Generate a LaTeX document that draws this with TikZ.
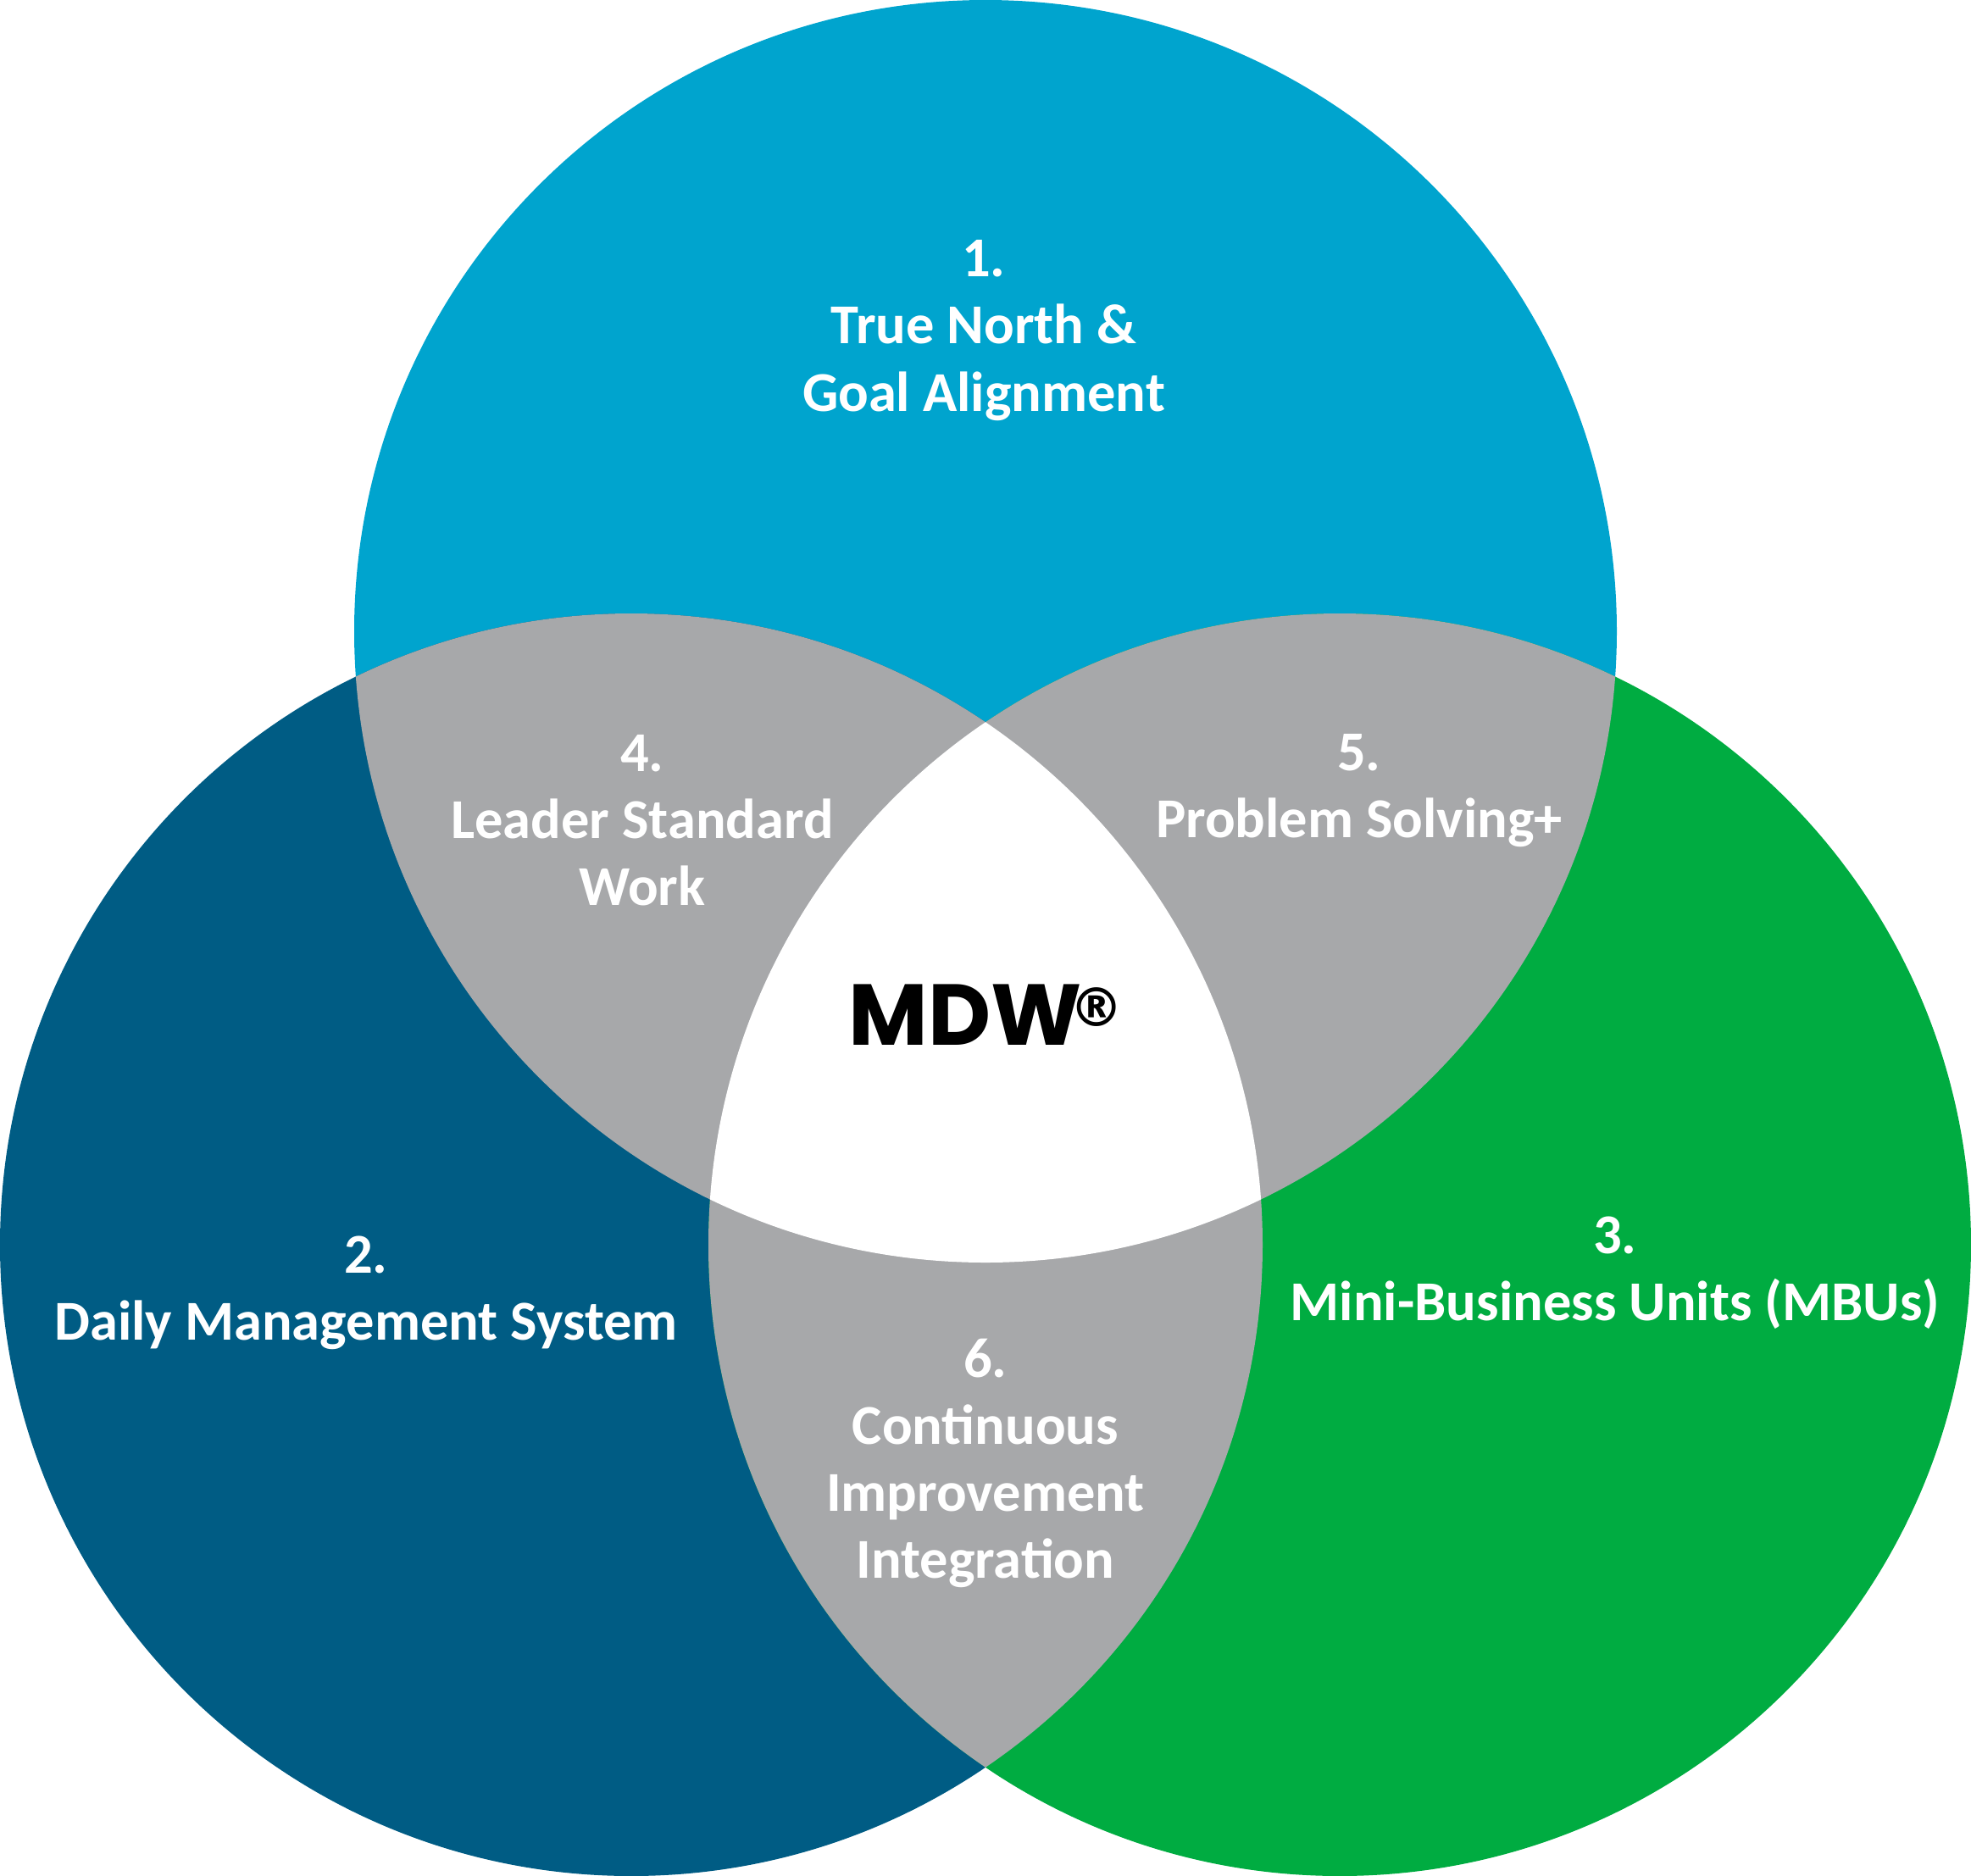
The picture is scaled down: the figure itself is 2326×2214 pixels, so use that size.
\documentclass[tikz,border=0pt]{standalone}
\usepackage{fontspec}
\setmainfont{Carlito}
\newfontfamily\logofont{Poppins}
\newfontfamily\symfont{DejaVu Sans}
\definecolor{topblue}{HTML}{00A4CE}
\definecolor{leftblue}{HTML}{005C84}
\definecolor{rightgreen}{HTML}{00AC41}
\definecolor{overlapgray}{HTML}{A7A8AA}
\tikzset{
  lbl/.style={text=white, font=\bfseries\fontsize{18.9pt}{22.5pt}\selectfont, align=center, inner sep=0pt},
  logo/.style={text=black, font=\logofont\bfseries\fontsize{29pt}{31pt}\selectfont, inner sep=0pt}
}
\begin{document}
\begin{tikzpicture}[x=0.01cm,y=-0.01cm]
\useasboundingbox (0,0) rectangle (2326,2214);
\coordinate (T) at (1163,745);
\coordinate (L) at (745,1469);
\coordinate (R) at (1581,1469);
\fill[topblue] (T) circle[radius=745];
\fill[leftblue] (L) circle[radius=745];
\fill[rightgreen] (R) circle[radius=745];
\begin{scope}
  \clip (T) circle[radius=745];
  \fill[overlapgray] (L) circle[radius=745];
  \fill[overlapgray] (R) circle[radius=745];
\end{scope}
\begin{scope}
  \clip (L) circle[radius=745];
  \fill[overlapgray] (R) circle[radius=745];
\end{scope}
\begin{scope}
  \clip (T) circle[radius=745];
  \clip (L) circle[radius=745];
  \fill[white] (R) circle[radius=745];
\end{scope}
\node[lbl] (n1) at (1161,390) {1.\\True North \&\\Goal Alignment};
\node[lbl] (n2) at (432,1526) {2.\\Daily Management System};
\node[lbl] (n3) at (1906,1502) {3.\\Mini-Business Units (MBUs)};
\node[lbl] (n4) at (758,968) {4.\\Leader Standard\\Work};
\node[lbl] (n5) at (1604,933) {5.\\Problem Solving+};
\node[lbl] (n6) at (1163,1727) {6.\\Continuous\\Improvement\\Integration};
\node[logo] (mdw) at (1164,1198) {MDW\kern-4pt\raisebox{6.4pt}{\symfont\fontsize{18pt}{19pt}\selectfont ®}};
\end{tikzpicture}
\end{document}
